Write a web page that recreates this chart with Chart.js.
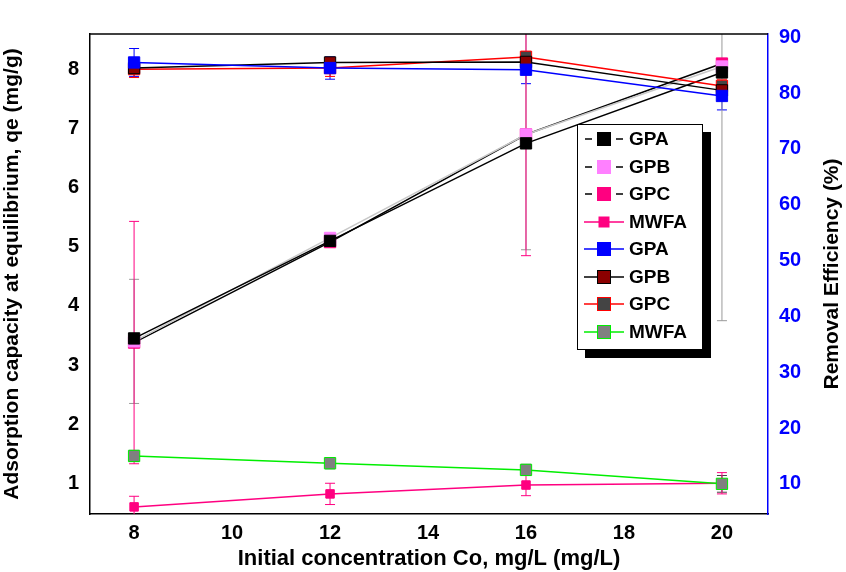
<!DOCTYPE html>
<html><head>
<script src="https://cdn.jsdelivr.net/npm/chart.js@4"></script>
<style>
body{margin:0;background:#fff;font-family:"Liberation Sans",Arial,sans-serif}
#wrap{position:relative;width:846px;height:572px}
#legend{position:absolute;left:577px;top:124px;width:124px;height:224px;border:1.5px solid #000;background:#fff;box-shadow:8px 8px 0 #000;font-weight:bold;font-size:19px}
#legend div{height:26.5px;display:flex;align-items:center;margin-left:6px;margin-top:1px}
#legend canvas{margin-right:5px}
</style></head><body>
<div id="wrap"><canvas id="c" width="846" height="572"></canvas><div id="legend"></div></div>
<script>
const concentrations = [8, 12, 16, 20];
// adsorption capacity qe (mg/g), left axis
const qeGPA = [3.45, 5.1, 6.75, 7.95];
const qeGPB = [3.4, 5.15, 6.9, 8.05];
const qeGPC = [3.38, 5.08, 6.9, 8.1];
const qeMWFA = [0.6, 0.82, 0.97, 1.0];
const qeErrGPC = [2.05, 0, 2.05, 0];
const qeErrGPB = [1.05, 0, 1.95, 4.3];
const qeErrMWFA = [0.18, 0.18, 0.18, 0.18];
// removal efficiency (%), right axis
const reGPA = [85.5, 84.5, 84.2, 79.5];
const reGPB = [84.5, 85.5, 85.6, 80.5];
const reGPC = [84.3, 84.5, 86.5, 81.3];
const reMWFA = [15, 13.7, 12.5, 10];
const reErrGPA = [2.5, 2.0, 2.5, 2.5];
const reErrGPC = [1.5, 1.5, 1.0, 1.2];
const reErrMWFA = [1, 1, 1, 1.5];

const mk = (label, data, axis, line, fill, border, err, errColor, size) => ({
  label, data: data.map((v, i) => ({x: concentrations[i], y: v})), yAxisID: axis,
  borderColor: line, backgroundColor: fill, pointBorderColor: border, pointBackgroundColor: fill,
  pointStyle: 'rect', pointRadius: size || 8, borderWidth: 1.5, pointBorderWidth: 1, err, errColor
});
const datasets = [
  mk('GPA', reGPA, 'y2', '#0000ff', '#0000ff', '#0000ff', reErrGPA, '#0000ff'),
  mk('GPB', reGPB, 'y2', '#000', '#8b0000', '#000', null),
  mk('GPC', reGPC, 'y2', '#ff0000', '#444', '#ff0000', reErrGPC, '#ff0000'),
  mk('MWFA', reMWFA, 'y2', '#00ee00', '#808080', '#00ee00', reErrMWFA, '#444'),
  mk('GPA', qeGPA, 'y', '#000', '#000', '#000', null),
  mk('GPB', qeGPB, 'y', '#c8c8c8', '#ff80ff', '#ff80ff', qeErrGPB, '#999'),
  mk('GPC', qeGPC, 'y', '#000', '#ff0080', '#ff0080', qeErrGPC, '#ff0080'),
  mk('MWFA', qeMWFA, 'y', '#ff0080', '#ff0080', '#ff0080', qeErrMWFA, '#ff0080', 6),
];
const font = {family: 'Liberation Sans', weight: 'bold', size: 20};
const titleFont = {family: 'Liberation Sans', weight: 'bold', size: 21};
const errPlugin = {
  id: 'err',
  beforeDatasetsDraw(chart) {
    const ctx = chart.ctx, a0 = chart.chartArea;
    ctx.save();
    ctx.beginPath(); ctx.rect(a0.left, a0.top, a0.right - a0.left, a0.bottom - a0.top); ctx.clip();
    chart.data.datasets.forEach(ds => {
      if (!ds.err) return;
      const ys = chart.scales[ds.yAxisID], xs = chart.scales.x;
      ctx.strokeStyle = ds.errColor; ctx.lineWidth = 1;
      ds.data.forEach((p, i) => {
        const e = ds.err[i]; if (!e) return;
        const x = xs.getPixelForValue(p.x), a = ys.getPixelForValue(p.y - e), b = ys.getPixelForValue(p.y + e);
        ctx.beginPath(); ctx.moveTo(x, a); ctx.lineTo(x, b);
        ctx.moveTo(x - 5, a); ctx.lineTo(x + 5, a); ctx.moveTo(x - 5, b); ctx.lineTo(x + 5, b); ctx.stroke();
      });
    });
    ctx.restore();
  },
  afterDraw(chart) {
    const ctx = chart.ctx, a = chart.chartArea;
    ctx.save(); ctx.strokeStyle = '#000'; ctx.lineWidth = 1.5;
    ctx.beginPath(); ctx.moveTo(a.left, a.top); ctx.lineTo(a.right, a.top); ctx.stroke();
    // right axis title, reading bottom to top
    ctx.translate(832, (a.top + a.bottom) / 2); ctx.rotate(-Math.PI / 2);
    ctx.fillStyle = '#000'; ctx.font = 'bold 21px "Liberation Sans"';
    ctx.textAlign = 'center'; ctx.textBaseline = 'middle';
    ctx.fillText('Removal Efficiency (%)', 0, 0);
    ctx.restore();
  }
};
const tickStyle = {display: false, drawTicks: true, tickLength: 7, tickColor: '#000', tickWidth: 1.5};
new Chart(document.getElementById('c'), {
  type: 'line',
  data: {datasets},
  options: {
    responsive: false, animation: false,
    layout: {padding: {top: 34, right: 0, left: 0, bottom: 0}},
    plugins: {legend: {display: false}, tooltip: {enabled: false}},
    scales: {
      x: {type: 'linear', min: 7.1, max: 20.94, afterBuildTicks: s => { s.ticks = [8,10,12,14,16,18,20].map(v => ({value: v})); },
        afterFit: s => { s.height = 58; },
        grid: tickStyle, border: {color: '#000', width: 1.5},
        ticks: {color: '#000', font, padding: 0},
        title: {display: true, text: 'Initial concentration Co, mg/L (mg/L)', color: '#000', font: {...titleFont, size: 22}, padding: {top: -4, bottom: 0}}},
      y: {min: 0.48, max: 8.6, afterBuildTicks: s => { s.ticks = [1,2,3,4,5,6,7,8].map(v => ({value: v})); },
        afterFit: s => { s.width = 90; },
        grid: tickStyle, border: {color: '#000', width: 1.5}, ticks: {color: '#000', font, padding: 4},
        title: {display: true, text: 'Adsorption capacity at equilibrium, qe (mg/g)', color: '#000', font: titleFont, padding: {top: 0, bottom: 4}}},
      y2: {position: 'right', min: 4.6, max: 90.6, afterBuildTicks: s => { s.ticks = [10,20,30,40,50,60,70,80,90].map(v => ({value: v})); },
        afterFit: s => { s.width = 78; },
        grid: {...tickStyle, tickColor: '#0000ff'}, border: {color: '#0000ff', width: 1.5}, ticks: {color: '#0000ff', font, padding: 4},
        title: {display: false}}
    }
  },
  plugins: [errPlugin]
});
// legend in the order of the reference
const order = [4, 5, 6, 7, 0, 1, 2, 3];
const leg = document.getElementById('legend');
order.forEach(i => {
  const ds = datasets[i];
  const row = document.createElement('div');
  const cv = document.createElement('canvas'); cv.width = 40; cv.height = 20;
  const g = cv.getContext('2d');
  const dashed = i >= 4 && i < 7;
  g.strokeStyle = ds.borderColor === '#c8c8c8' ? '#000' : ds.borderColor; g.lineWidth = 1.5;
  g.beginPath();
  if (dashed) { g.moveTo(1,10); g.lineTo(8,10); g.moveTo(32,10); g.lineTo(39,10); } else { g.moveTo(0,10); g.lineTo(40,10); }
  g.stroke();
  const s = ds.pointRadius === 6 ? 10 : 13;
  g.fillStyle = ds.backgroundColor; g.fillRect(20 - s/2, 10 - s/2, s, s);
  g.strokeStyle = ds.pointBorderColor; g.lineWidth = 1; g.strokeRect(20 - s/2, 10 - s/2, s, s);
  row.appendChild(cv);
  row.appendChild(document.createTextNode(ds.label));
  leg.appendChild(row);
});
</script>
</body></html>
